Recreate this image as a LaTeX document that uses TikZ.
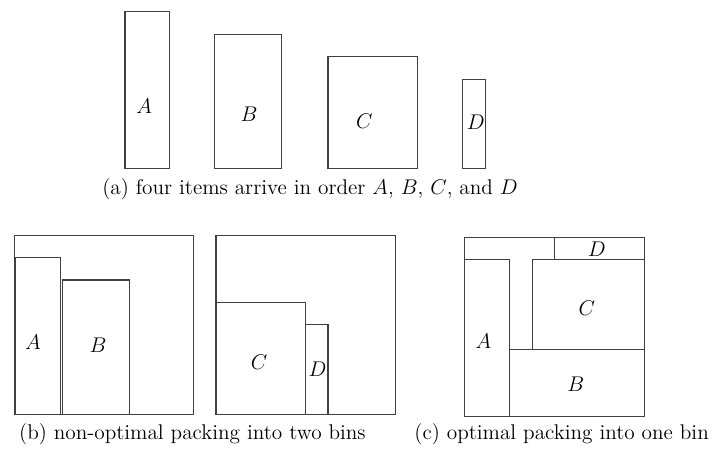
\documentclass[tikz,border=0pt]{standalone}
\usepackage{fix-cm}
\tikzstyle{item}=[draw=black!75, line width=0.7pt]
\tikzstyle{lbl}=[font=\fontsize{13.5}{16}\selectfont]
\tikzstyle{subcap}=[font=\fontsize{13.5}{16}\selectfont]

\begin{document}
\begin{tikzpicture}[x=0.5cm, y=-0.5cm]
\useasboundingbox (0,0) rectangle (31.96,20.04);

\draw [item] (5.58,0.53) rectangle (7.58,7.53);
\draw [item] (9.57,1.53) rectangle (12.57,7.53);
\draw [item] (14.64,2.53) rectangle (18.64,7.53);
\draw [item] (20.66,3.53) rectangle (21.66,7.53);
\node [lbl] (A) at (6.44,4.73) {$A$};
\node [lbl] (B) at (11.12,5.09) {$B$};
\node [lbl] (C) at (16.26,5.43) {$C$};
\node [lbl] (D) at (21.24,5.46) {$D$};
\node [subcap] (capa) at (13.84,8.45) {(a) four items arrive in order $A$, $B$, $C$, and $D$};

\draw [item] (0.64,10.5) rectangle (8.64,18.5);
\draw [item] (0.70,11.5) rectangle (2.70,18.5);
\draw [item] (2.78,12.5) rectangle (5.78,18.5);
\node [lbl] (bA) at (1.47,15.27) {$A$};
\node [lbl] (bB) at (4.38,15.42) {$B$};
\draw [item] (9.64,10.5) rectangle (17.64,18.5);
\draw [item] (9.64,13.5) rectangle (13.64,18.5);
\draw [item] (13.64,14.5) rectangle (14.64,18.5);
\node [lbl] (bC) at (11.56,16.19) {$C$};
\node [lbl] (bD) at (14.17,16.47) {$D$};
\node [subcap] (capb) at (8.59,19.4) {(b) non-optimal packing into two bins};

\draw [item] (20.75,10.6) rectangle (28.75,18.6);
\draw [item] (20.75,11.6) rectangle (22.75,18.6);
\draw [item] (22.75,15.6) rectangle (28.75,18.6);
\draw [item] (23.75,11.6) rectangle (28.75,15.6);
\draw [item] (24.75,10.6) rectangle (28.75,11.6);
\node [lbl] (cD) at (26.64,11.13) {$D$};
\node [lbl] (cC) at (26.19,13.74) {$C$};
\node [lbl] (cA) at (21.58,15.21) {$A$};
\node [lbl] (cB) at (25.7,17.16) {$B$};
\node [subcap] (capc) at (25.07,19.4) {(c) optimal packing into one bin};

\end{tikzpicture}
\end{document}
